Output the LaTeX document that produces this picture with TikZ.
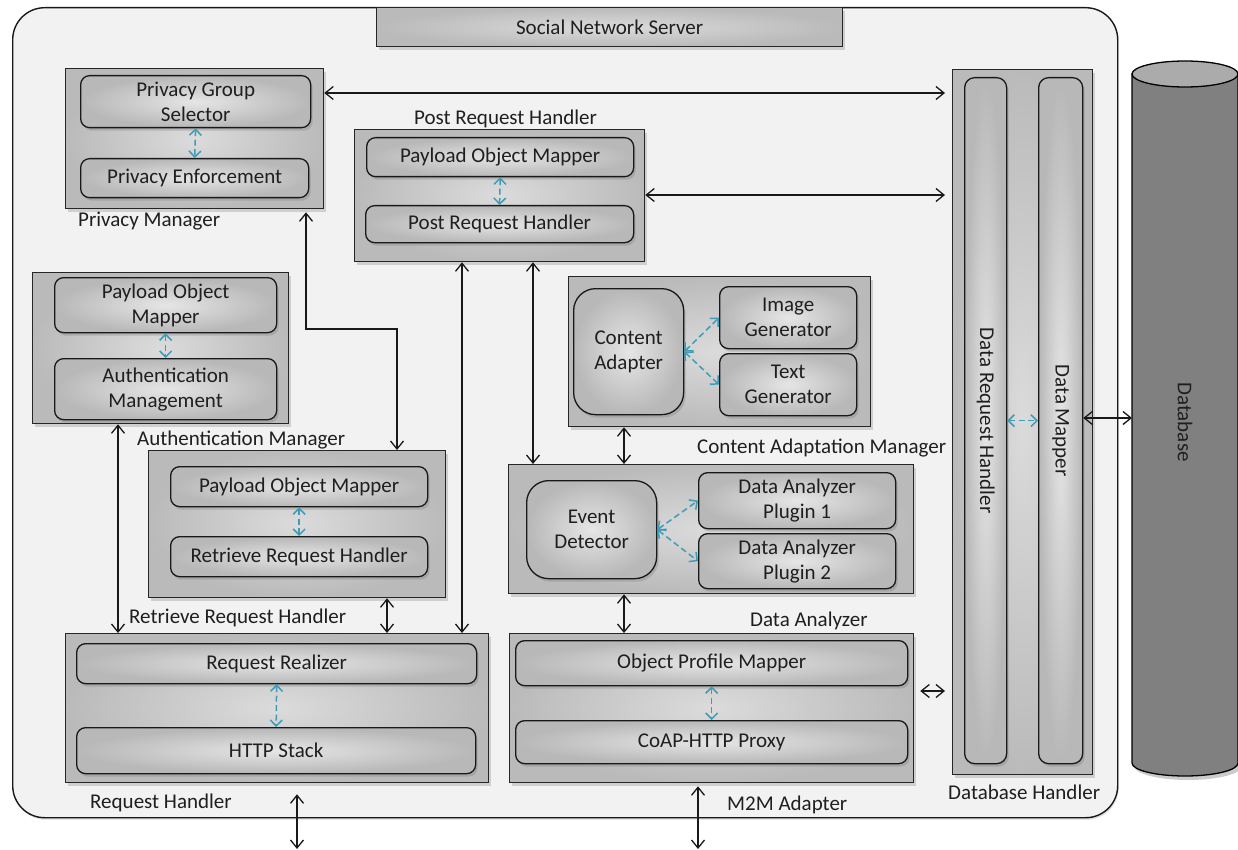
\documentclass[tikz,border=0pt]{standalone}
\usepackage{fontspec}
\setmainfont{Carlito}
\usetikzlibrary{arrows.meta,shadows}
\definecolor{linkblue}{HTML}{3F9CB6}
\definecolor{paper}{HTML}{F2F2F2}
\begin{document}
\begin{tikzpicture}[x=1pt,y=-1pt,
  every node/.append style={font=\fontsize{21}{25}\selectfont, text=black!88},
  span/.style n args={4}{anchor=north west, at={(#1,#2)},
    minimum width={#3pt-#1pt}, minimum height={#4pt-#2pt}},
  server/.style={draw=black!90, line width=1.4pt, fill=paper, rounded corners=32pt, inner sep=0pt,
    drop shadow={shadow xshift=1pt,shadow yshift=-2pt,opacity=0.25}},
  group/.style={draw=black!85, line width=1.3pt, inner color=black!14, outer color=black!27, inner sep=0pt,
    drop shadow={shadow xshift=2pt,shadow yshift=-3pt,opacity=0.3}},
  block/.style={draw=black!90, line width=1.3pt, rounded corners=9pt, inner color=black!10, outer color=black!28,
    inner sep=0pt, align=center, drop shadow={shadow xshift=2pt,shadow yshift=-3pt,opacity=0.35}},
  bigblock/.style={block, rounded corners=22pt},
  tag/.style={anchor=base west, inner sep=0pt},
  conn/.style={draw=black!90, line width=1.3pt, >={Straight Barb[length=8pt,width=13pt]}, <->},
  link/.style={draw=linkblue, line width=1.5pt, dash pattern=on 6pt off 3.5pt,
    >={Straight Barb[length=6pt,width=12pt]}, <->}]

\useasboundingbox (0,0) rectangle (1238,850);
\clip (0,0) rectangle (1238,850);
\fill[white] (0,0) rectangle (1238,850);

% server frame and title
\node[server, span={12}{7}{1117}{817}] (srv) {};
\node[group, span={376}{7}{842}{46}] (sns) {Social Network Server};

% privacy manager
\node[group, span={65}{68}{323}{208}] (pm) {};
\node[block, span={80}{75}{310}{127}] (pgs) {Privacy Group\\Selector};
\node[block, span={80}{158}{308}{197}] (pe) {Privacy Enforcement};
\node[tag] (pmlabel) at (78,227) {Privacy Manager};

% post request handler
\node[group, span={354}{129}{644}{261}] (prh) {};
\node[block, span={366}{137}{633}{176}] (ppom) {Payload Object Mapper};
\node[block, span={365}{205}{633}{242}] (pprh) {Post Request Handler};
\node[tag] (prhlabel) at (414,125) {Post Request Handler};

% authentication manager
\node[group, span={32}{272}{288}{423}] (am) {};
\node[block, span={54}{277}{276}{332}] (apom) {Payload Object\\Mapper};
\node[block, span={54}{358}{276}{419}] (amg) {Authentication\\Management};
\node[tag] (amlabel) at (137,445) {Authentication Manager};

% retrieve request handler
\node[group, span={148}{450}{445}{597}] (rrh) {};
\node[block, span={170}{466}{427}{506}] (rpom) {Payload Object Mapper};
\node[block, span={170}{536}{427}{576}] (rrrh) {Retrieve Request Handler};
\node[tag] (rrhlabel) at (129,623) {Retrieve Request Handler};

% request handler
\node[group, span={65}{633}{488}{782}] (rh) {};
\node[block, span={76}{643}{476}{683}] (rr) {Request Realizer};
\node[block, span={76}{727}{475}{773}] (http) {HTTP Stack};
\node[tag] (rhlabel) at (90,808) {Request Handler};

% content adaptation manager
\node[group, span={568}{276}{870}{426}] (cam) {};
\node[bigblock, span={573}{288}{683}{414}] (ca) {Content\\Adapter};
\node[block, span={719}{286}{856}{348}] (ig) {Image\\Generator};
\node[block, span={719}{353}{856}{415}] (tg) {Text\\Generator};
\node[tag] (camlabel) at (697,453) {Content Adaptation Manager};

% data analyzer
\node[group, span={508}{464}{913}{593}] (da) {};
\node[bigblock, span={526}{480}{656}{578}] (ed) {Event\\Detector};
\node[block, span={698}{472}{895}{528}] (dap1) {Data Analyzer\\Plugin 1};
\node[block, span={698}{533}{895}{588}] (dap2) {Data Analyzer\\Plugin 2};
\node[tag] (dalabel) at (750,626) {Data Analyzer};

% m2m adapter
\node[group, span={509}{633}{913}{782}] (m2m) {};
\node[block, span={515}{640}{907}{685}] (opm) {Object Profile Mapper};
\node[block, span={515}{720}{907}{763}] (coap) {CoAP-HTTP Proxy};
\node[tag] (m2mlabel) at (727,810) {M2M Adapter};

% database handler
\node[group, span={952}{69}{1092}{774}] (dbh) {};
\node[block, rounded corners=10pt, span={964}{77}{1006}{763}] (drh) {};
\node[block, rounded corners=10pt, span={1038}{77}{1082}{763}] (dmap) {};
\node[rotate=-90] (drhtext) at (drh.center) {Data Request Handler};
\node[rotate=-90] (dmaptext) at (dmap.center) {Data Mapper};
\node[tag] (dbhlabel) at (948,799) {Database Handler};

% database cylinder
\fill[black!40, opacity=0.5] (1135,78) -- (1135,767) .. controls (1135,774) and (1159,780) .. (1188,780)
  .. controls (1217,780) and (1241,774) .. (1241,767) -- (1241,78) -- cycle;
\draw[line width=1.3pt, fill=black!50] (1132,74) -- (1132,763)
  .. controls (1132,770.2) and (1155.7,776) .. (1185,776)
  .. controls (1214.3,776) and (1238,770.2) .. (1238,763) -- (1238,74) -- cycle;
\draw[line width=1.3pt, fill=black!33] (1185,74) ellipse [x radius=53, y radius=13];
\node[rotate=-90] (dbtext) at (1185,422) {Database};
\coordinate (dbside) at (1132,418);

% connectors
\coordinate (yA) at (0,93);
\coordinate (yB) at (0,195);
\coordinate (yC) at (0,691);
\coordinate (yD) at (0,418);
\draw[conn, shorten >=7pt] (pm.east |- yA) -- (dbh.west |- yA);
\draw[conn, shorten >=7pt] (prh.east |- yB) -- (dbh.west |- yB);
\draw[conn, shorten <=6pt, shorten >=7pt] (m2m.east |- yC) -- (dbh.west |- yC);
\draw[conn] (dmap.east |- yD) -- (dbside);

\coordinate (bendA) at (306,329);
\coordinate (bendB) at (397,329);
\draw[conn, shorten <=3pt] (bendA |- pm.south) -- (bendA) -- (bendB) -- (bendB |- rrh.north);

\coordinate (xA) at (118,0);
\coordinate (xB) at (462,0);
\coordinate (xC) at (533,0);
\coordinate (xD) at (387,0);
\coordinate (xE) at (624,0);
\draw[conn] (xA |- am.south) -- (xA |- rh.north);
\draw[conn] (xB |- prh.south) -- (xB |- rh.north);
\draw[conn] (xC |- prh.south) -- (xC |- da.north);
\draw[conn] (xD |- rrh.south) -- (xD |- rh.north);
\draw[conn] (xE |- cam.south) -- (xE |- da.north);
\draw[conn] (xE |- da.south) -- (xE |- m2m.north);

\coordinate (outA) at (297,849);
\coordinate (outB) at (698,849);
\draw[conn, shorten <=11pt] (outA |- rh.south) -- (outA);
\draw[conn, shorten <=3pt] (outB |- m2m.south) -- (outB);

% internal links
\draw[link] (pgs.south) -- (pe.north);
\draw[link] (ppom.south) -- (pprh.north);
\draw[link] (apom.south) -- (amg.north);
\draw[link] (rpom.south) -- (rrrh.north);
\draw[link] (rr.south) -- (http.north);
\draw[link] (opm.south) -- (coap.north);
\draw[link] (ca.east) -- (ig.west);
\draw[link] (ca.east) -- (tg.west);
\draw[link] (ed.east) -- (dap1.west);
\draw[link] (ed.east) -- (dap2.west);
\draw[link] (drh.east) -- (dmap.west);
\end{tikzpicture}
\end{document}
